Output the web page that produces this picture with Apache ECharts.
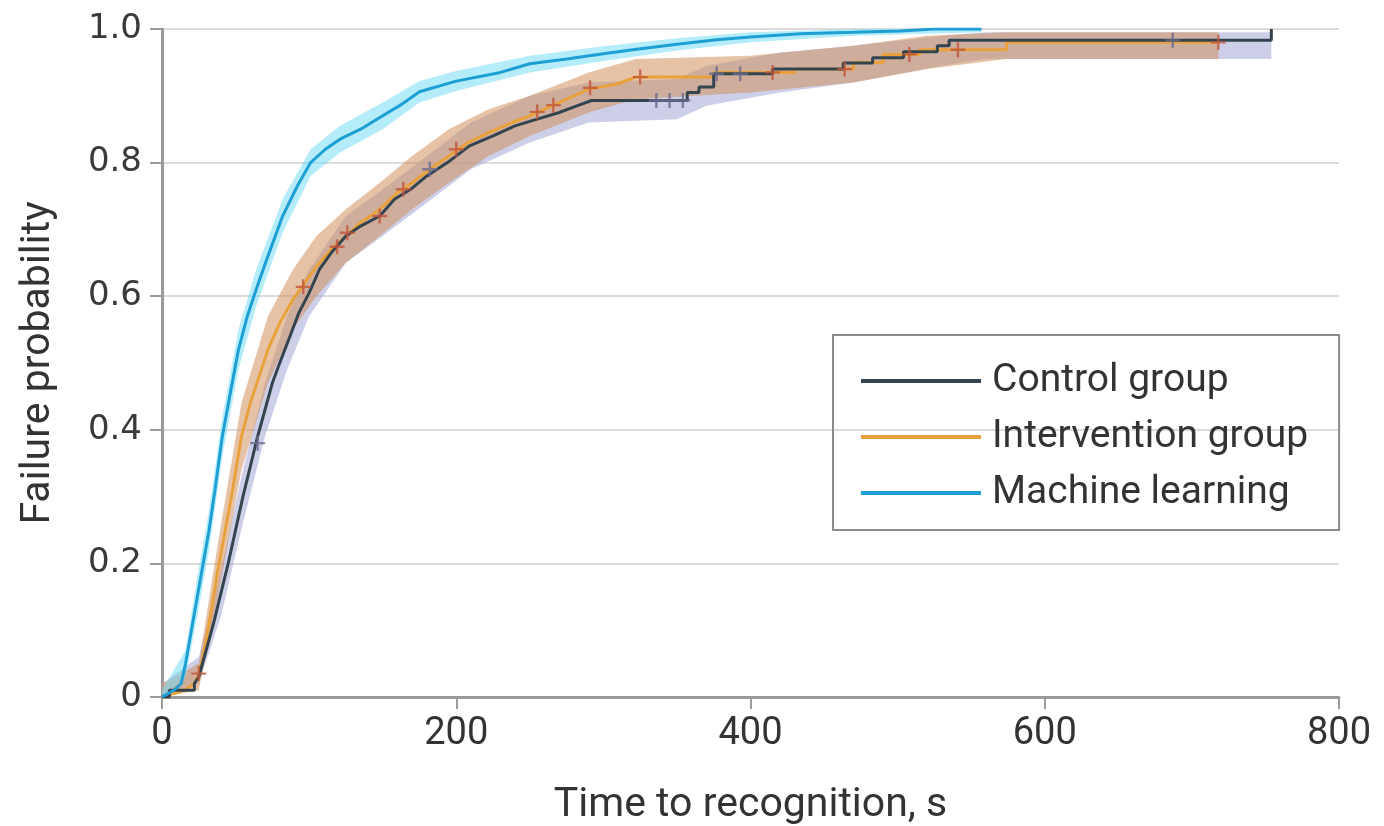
<!DOCTYPE html>
<html>
<head>
<meta charset="utf-8">
<script src="https://cdn.jsdelivr.net/npm/echarts@6/dist/echarts.min.js"></script>
<style>
  html, body { margin: 0; padding: 0; background: #fff; }
  #chart { width: 1384px; height: 826px; }
</style>
</head>
<body>
<div id="chart"></div>
<script>
// failure curves, [time (s), failure probability]; repeated times are the steps
let controlCurve = [
    [0, 0], [5, 0], [5, 0.01], [22, 0.01], [22, 0.02], [25, 0.03], [30, 0.07], [35, 0.11],
    [40, 0.155], [45, 0.2], [50, 0.25], [55, 0.3], [60, 0.345], [65, 0.39], [70, 0.43], [75, 0.47],
    [80, 0.5], [87, 0.54], [93, 0.575], [100, 0.605], [107, 0.64], [115, 0.665], [125, 0.69],
    [135, 0.705], [148, 0.72], [158, 0.745], [169, 0.76], [180, 0.78], [194, 0.8], [209, 0.825],
    [225, 0.84], [240, 0.855], [255, 0.865], [270, 0.875], [282, 0.885], [292, 0.893],
    [357, 0.893], [357, 0.905], [365, 0.905], [365, 0.913], [375, 0.913], [375, 0.933],
    [415, 0.933], [415, 0.94], [463, 0.94], [463, 0.949], [483, 0.949], [483, 0.957],
    [504, 0.957], [504, 0.966], [527, 0.966], [527, 0.975], [535, 0.975], [535, 0.983],
    [754, 0.983], [754, 1.0]
]
let interventionCurve = [
    [0, 0], [15, 0.01], [22, 0.02], [25, 0.035], [28, 0.06], [32, 0.11], [38, 0.19], [43, 0.25],
    [48, 0.31], [54, 0.39], [60, 0.44], [66, 0.48], [72, 0.52], [80, 0.56], [89, 0.595],
    [97, 0.62], [105, 0.645], [115, 0.67], [125, 0.69], [135, 0.71], [148, 0.73], [160, 0.755],
    [170, 0.77], [182, 0.79], [195, 0.81], [208, 0.83], [222, 0.845], [238, 0.86], [250, 0.87],
    [262, 0.882], [280, 0.9], [290, 0.91], [310, 0.918], [322, 0.928], [375, 0.928], [375, 0.935],
    [430, 0.935], [430, 0.94], [470, 0.94], [470, 0.95], [490, 0.95], [490, 0.962], [515, 0.962],
    [515, 0.969], [574, 0.969], [574, 0.98], [718, 0.98]
]
let mlCurve = [
    [0, 0], [8, 0.01], [13, 0.02], [16, 0.05], [20, 0.1], [24, 0.15], [28, 0.2], [32, 0.25],
    [36, 0.31], [41, 0.39], [46, 0.45], [52, 0.52], [58, 0.57], [64, 0.61], [72, 0.66], [82, 0.72],
    [92, 0.765], [101, 0.8], [111, 0.82], [121, 0.835], [135, 0.85], [150, 0.87], [162, 0.886],
    [175, 0.906], [200, 0.922], [230, 0.935], [250, 0.948], [275, 0.955], [300, 0.963], [320, 0.969],
    [350, 0.977], [377, 0.984], [400, 0.988], [434, 0.993], [470, 0.995], [502, 0.997], [525, 1.0],
    [557, 1.0]
]

// confidence bands, [time, lower, upper]
let controlBand = [
    [0, 0, 0.02], [25, 0.02, 0.06], [40, 0.12, 0.19], [55, 0.26, 0.34], [70, 0.39, 0.47],
    [85, 0.49, 0.57], [100, 0.57, 0.64], [125, 0.65, 0.72], [150, 0.69, 0.76], [180, 0.74, 0.81],
    [210, 0.79, 0.86], [250, 0.83, 0.9], [290, 0.86, 0.92], [350, 0.865, 0.925], [370, 0.885, 0.945],
    [420, 0.905, 0.965], [470, 0.92, 0.975], [530, 0.945, 0.99], [560, 0.955, 0.995], [754, 0.955, 0.995]
]
let interventionBand = [
    [0, 0, 0.02], [25, 0.01, 0.05], [38, 0.15, 0.23], [54, 0.34, 0.44], [72, 0.47, 0.57],
    [89, 0.55, 0.64], [105, 0.6, 0.69], [125, 0.65, 0.73], [148, 0.69, 0.77], [170, 0.73, 0.81],
    [195, 0.77, 0.85], [222, 0.81, 0.88], [250, 0.84, 0.9], [290, 0.875, 0.935], [322, 0.895, 0.955],
    [400, 0.905, 0.96], [470, 0.92, 0.975], [520, 0.94, 0.99], [574, 0.955, 0.995], [718, 0.955, 0.995]
]
let mlBand = [
    [0, 0, 0.01], [16, 0.03, 0.07], [24, 0.12, 0.18], [32, 0.22, 0.28], [41, 0.36, 0.42],
    [52, 0.49, 0.55], [64, 0.585, 0.64], [82, 0.695, 0.745], [101, 0.78, 0.82], [121, 0.815, 0.855],
    [150, 0.85, 0.89], [175, 0.89, 0.922], [200, 0.907, 0.937], [250, 0.935, 0.96], [300, 0.952, 0.974],
    [350, 0.968, 0.986], [400, 0.98, 0.995], [470, 0.99, 1.0], [557, 0.995, 1.0]
]

// censored observations
let controlCensored = [
    [65, 0.38], [182, 0.79], [336, 0.893], [345, 0.893], [354, 0.893], [377, 0.933], [393, 0.933], [687, 0.983]
]
let interventionCensored = [
    [25, 0.035], [96, 0.614], [119, 0.674], [126, 0.695], [148, 0.72], [164, 0.76], [200, 0.82], [255, 0.876],
    [266, 0.886], [291, 0.912], [325, 0.928], [415, 0.935], [464, 0.94], [508, 0.962], [541, 0.969], [718, 0.98]
]

let xTicks = [0, 200, 400, 600, 800]
let yTicks = [0, 0.2, 0.4, 0.6, 0.8, 1.0]

let textFont = 'Roboto, sans-serif'
let plus = 'path://M4.2,0H5.8V4.2H10V5.8H5.8V10H4.2V5.8H0V4.2H4.2Z'

function bandSeries(band, color) {
    return {
        type: 'custom',
        silent: true,
        data: [[0, 0]],
        z: 1,
        renderItem: function (params, api) {
            let pts = band.map(d => api.coord([d[0], d[2]]))
            for (let i = band.length - 1; i >= 0; i--) {
                pts.push(api.coord([band[i][0], band[i][1]]))
            }
            return {
                type: 'polygon',
                shape: { points: pts },
                style: { fill: color }
            }
        }
    }
}

let myChart = echarts.init(document.getElementById('chart'))
let option = {
    animation: false,
    grid: { left: 162, right: 45, top: 29, bottom: 129, containLabel: false, outerBoundsMode: 'none' },
    legend: {
        orient: 'vertical',
        left: 833,
        top: 335,
        padding: [26, 31, 17, 28],
        borderColor: '#8c8c8c',
        borderWidth: 2,
        itemWidth: 120,
        itemHeight: 4,
        itemGap: 16,
        icon: 'rect',
        textStyle: { fontFamily: textFont, fontSize: 39, color: '#333', lineHeight: 40, padding: [0, 0, 0, 6] },
        data: ['Control group', 'Intervention group', 'Machine learning']
    },
    xAxis: {
        type: 'value',
        min: 0,
        max: 800,
        interval: 200,
        name: 'Time to recognition, s',
        nameLocation: 'middle',
        nameGap: 88,
        nameTextStyle: { fontFamily: textFont, fontSize: 41, color: '#333' },
        axisLine: { lineStyle: { color: '#9a9a9a', width: 3 } },
        axisTick: { show: true, length: 12, lineStyle: { color: '#9a9a9a', width: 2 } },
        axisLabel: {
            fontFamily: textFont, fontSize: 38, color: '#333', margin: 18,
            formatter: v => xTicks.includes(v) ? String(v) : ''
        },
        splitLine: { show: false }
    },
    yAxis: {
        type: 'value',
        min: 0,
        max: 1,
        interval: 0.2,
        name: 'Failure probability',
        nameLocation: 'middle',
        nameGap: 103,
        nameTextStyle: { fontFamily: textFont, fontSize: 41, color: '#333' },
        axisLine: { show: true, lineStyle: { color: '#9a9a9a', width: 3 } },
        axisTick: { show: true, length: 12, lineStyle: { color: '#9a9a9a', width: 2 } },
        axisLabel: {
            fontFamily: '"DejaVu Sans", sans-serif', fontSize: 34, color: '#3a3a3a', margin: 20,
            formatter: v => {
                let t = yTicks.find(y => Math.abs(y - v) < 1e-9)
                if (t === undefined) return ''
                return t === 0 ? '0' : t.toFixed(1)
            }
        },
        splitLine: { show: true, lineStyle: { color: '#dcdcdc', width: 2 } }
    },
    series: [
        bandSeries(controlBand, 'rgba(170,175,215,0.6)'),
        bandSeries(interventionBand, 'rgba(210,145,95,0.55)'),
        bandSeries(mlBand, 'rgba(120,220,245,0.55)'),
        {
            name: 'Intervention group',
            type: 'line',
            data: interventionCurve,
            showSymbol: false,
            color: '#e9a23b',
            lineStyle: { width: 3, color: '#e9a23b' },
            z: 3
        },
        {
            name: 'Control group',
            type: 'line',
            data: controlCurve,
            showSymbol: false,
            color: '#34444f',
            lineStyle: { width: 3, color: '#34444f' },
            z: 4
        },
        {
            name: 'Machine learning',
            type: 'line',
            data: mlCurve,
            showSymbol: false,
            color: '#1d9fd3',
            lineStyle: { width: 3, color: '#1d9fd3' },
            z: 4
        },
        {
            type: 'scatter',
            data: controlCensored,
            symbol: plus,
            symbolSize: 15,
            itemStyle: { color: '#6c6a8c' },
            z: 5
        },
        {
            type: 'scatter',
            data: interventionCensored,
            symbol: plus,
            symbolSize: 15,
            itemStyle: { color: '#c0563c' },
            z: 5
        }
    ]
}
myChart.setOption(option)
</script>
</body>
</html>
